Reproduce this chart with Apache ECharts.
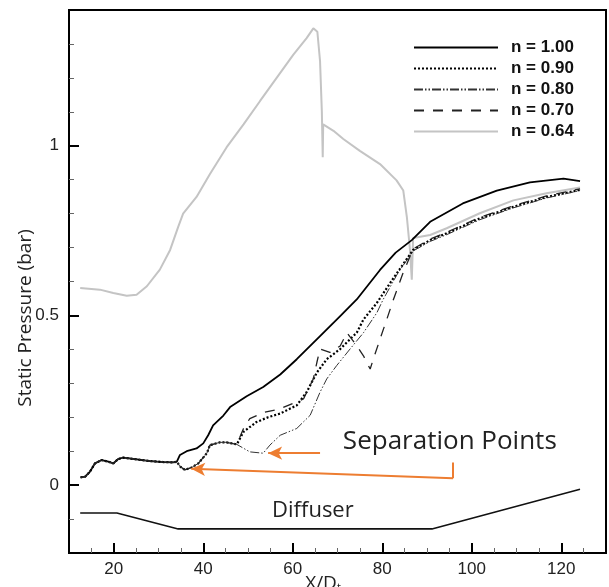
<!DOCTYPE html>
<html>
<head>
<meta charset="utf-8">
<script src="https://cdn.jsdelivr.net/npm/echarts@6/dist/echarts.min.js"></script>
<style>
  html, body { margin: 0; padding: 0; background: #fff; }
  #chart { width: 609px; height: 587px; }
</style>
</head>
<body>
<div id="chart"></div>
<script>
// values: [X/Dt, static pressure (bar)]
const commonStart = [[12.6, 0.023], [13.6, 0.025], [14.7, 0.040], [15.8, 0.064], [17.3, 0.074], [18.8, 0.069],
  [19.9, 0.064], [21.0, 0.077], [22.1, 0.081], [25.1, 0.076], [28.1, 0.071], [31.1, 0.068], [33.3, 0.067], [34.1, 0.069]];

const lowBranch = [[34.8, 0.055], [35.9, 0.045], [37.4, 0.052], [38.9, 0.064], [40.8, 0.094], [41.5, 0.118],
  [43.7, 0.126], [45.2, 0.126], [47.5, 0.120]];

const n100Tail = [[34.8, 0.089], [36.3, 0.100], [38.5, 0.108], [40.0, 0.123], [41.1, 0.147], [42.2, 0.176],
  [44.5, 0.205], [46.0, 0.230], [49.7, 0.262], [53.4, 0.289], [57.2, 0.326], [60.9, 0.371], [66.1, 0.439],
  [70.6, 0.498], [74.3, 0.547], [79.5, 0.634], [83.0, 0.685], [86.6, 0.722], [90.7, 0.776], [98.0, 0.830],
  [105.6, 0.868], [113.0, 0.892], [120.5, 0.903], [124.2, 0.896]];

const n090Tail = [[49.0, 0.157], [51.9, 0.186], [54.5, 0.200], [57.2, 0.211], [60.9, 0.235], [63.1, 0.274],
  [65.4, 0.332], [67.6, 0.371], [70.6, 0.401], [72.8, 0.430], [74.3, 0.449], [75.8, 0.488], [78.8, 0.537],
  [82.5, 0.610], [86.9, 0.693], [90.7, 0.722], [94.4, 0.742], [101.8, 0.786], [109.3, 0.820], [116.7, 0.849],
  [124.2, 0.870]];

const n080Tail = [[50.4, 0.098], [53.4, 0.094], [54.9, 0.118], [57.2, 0.147], [60.9, 0.167], [63.9, 0.206],
  [66.1, 0.274], [67.6, 0.313], [69.8, 0.352], [72.8, 0.401], [75.8, 0.449], [78.8, 0.508], [80.2, 0.547],
  [83.5, 0.625], [86.9, 0.690], [90.7, 0.718], [94.4, 0.738], [101.8, 0.782], [109.3, 0.817], [116.7, 0.846],
  [124.2, 0.868]];

const n070Tail = [[49.0, 0.167], [50.4, 0.196], [53.5, 0.214], [57.2, 0.225], [62.4, 0.254], [64.6, 0.313],
  [65.4, 0.362], [66.1, 0.401], [68.3, 0.391], [70.6, 0.410], [72.1, 0.449], [73.8, 0.420], [75.8, 0.381],
  [77.3, 0.342], [78.0, 0.371], [79.5, 0.430], [81.0, 0.488], [82.5, 0.547], [84.5, 0.620], [86.9, 0.696],
  [90.7, 0.725], [94.4, 0.745], [101.8, 0.789], [109.3, 0.823], [116.7, 0.852], [124.2, 0.873]];

const n064 = [[12.5, 0.581], [16.9, 0.576], [19.9, 0.566], [22.9, 0.558], [25.1, 0.561], [27.4, 0.586],
  [30.3, 0.635], [32.6, 0.693], [34.4, 0.761], [35.5, 0.800], [38.5, 0.849], [41.5, 0.917], [45.2, 0.995],
  [49.0, 1.063], [52.7, 1.132], [56.4, 1.200], [60.1, 1.268], [63.1, 1.317], [64.6, 1.346], [65.5, 1.336],
  [66.1, 1.249], [66.5, 1.102], [66.7, 0.966], [66.8, 1.063], [69.1, 1.044], [71.3, 1.020], [75.0, 0.985],
  [79.5, 0.946], [83.2, 0.898], [84.7, 0.868], [85.5, 0.790], [86.2, 0.693], [86.6, 0.605], [86.9, 0.728],
  [90.7, 0.737], [94.4, 0.757], [101.8, 0.801], [109.3, 0.839], [116.7, 0.860], [124.2, 0.877]];

const diffuser = [[12.5, -0.082], [20.7, -0.082], [34.4, -0.129], [91.1, -0.129], [124.2, -0.012]];

const seriesNames = ['n = 1.00', 'n = 0.90', 'n = 0.80', 'n = 0.70', 'n = 0.64'];

const xMajor = [20, 40, 60, 80, 100, 120];
const xMinor = [15, 25, 30, 35, 45, 50, 55, 65, 70, 75, 85, 90, 95, 105, 110, 115, 125];
const yMajor = [0, 0.5, 1];
const yMinor = [-0.1, 0.1, 0.2, 0.3, 0.4, 0.6, 0.7, 0.8, 0.9, 1.1, 1.2, 1.3];

// annotation anchors (data coords)
const arrowUpper = [[66.1, 0.095], [54.5, 0.094]];
const arrowLower = [[95.8, 0.067], [95.8, 0.020], [37.3, 0.048]];
const sepTextAt = [71.2, 0.117];
const diffuserTextAt = [64.5, -0.076];

const FONT = 'Liberation Sans';
const ORANGE = '#ed7d31';

const chart = echarts.init(document.getElementById('chart'));

function lineSeries(name, data, style) {
  return {
    name: name,
    type: 'line',
    data: data,
    symbol: 'none',
    showSymbol: false,
    animation: false,
    itemStyle: { color: style.color },
    lineStyle: style,
    emphasis: { disabled: true },
  };
}

const option = {
  animation: false,
  backgroundColor: '#fff',
  grid: { left: 69, right: 3, top: 10, bottom: 34, show: true, borderColor: '#000', borderWidth: 2 },
  legend: {
    data: seriesNames,
    orient: 'vertical',
    left: 413,
    top: 39,
    padding: 0,
    itemWidth: 84,
    itemHeight: 14,
    itemGap: 4,
    selectedMode: false,
    itemStyle: { opacity: 0 },
    textStyle: { fontFamily: FONT, fontWeight: 'bold', fontSize: 17, color: '#111', padding: [0, 0, 0, 8] },
  },
  xAxis: [{
    type: 'value', min: 10, max: 130,
    axisLine: { onZero: false, lineStyle: { color: '#000', width: 2 } },
    axisTick: { inside: true, length: 10, customValues: xMajor, lineStyle: { color: '#000', width: 2 } },
    axisLabel: { customValues: xMajor, fontFamily: FONT, fontSize: 17, color: '#222', margin: 8 },
    splitLine: { show: false },
  }, {
    type: 'value', min: 10, max: 130, position: 'bottom', offset: 0,
    axisLine: { show: false, onZero: false },
    axisTick: { inside: true, length: 5, customValues: xMinor, lineStyle: { color: '#666', width: 1 } },
    axisLabel: { show: false },
    splitLine: { show: false },
  }],
  yAxis: [{
    type: 'value', min: -0.2, max: 1.4,
    axisLine: { show: true, onZero: false, lineStyle: { color: '#000', width: 2 } },
    axisTick: { show: true, inside: true, length: 10, customValues: yMajor, lineStyle: { color: '#000', width: 2 } },
    axisLabel: { customValues: yMajor, fontFamily: FONT, fontSize: 17, color: '#222', margin: 10 },
    splitLine: { show: false },
  }, {
    type: 'value', min: -0.2, max: 1.4, position: 'left', offset: 0,
    axisLine: { show: false, onZero: false },
    axisTick: { show: true, inside: true, length: 5, customValues: yMinor, lineStyle: { color: '#666', width: 1 } },
    axisLabel: { show: false },
    splitLine: { show: false },
  }],
  series: [
    lineSeries(seriesNames[4], n064, { color: '#c4c4c4', width: 2 }),
    lineSeries(seriesNames[0], commonStart.concat(n100Tail), { color: '#000', width: 1.8 }),
    lineSeries(seriesNames[1], commonStart.concat(lowBranch, n090Tail), { color: '#000', width: 2.2, type: [2, 2] }),
    lineSeries(seriesNames[2], commonStart.concat(lowBranch, n080Tail), { color: '#333', width: 1, type: [9, 2, 1.5, 2, 1.5, 2] }),
    lineSeries(seriesNames[3], commonStart.concat(lowBranch, n070Tail), { color: '#222', width: 1.3, type: [10, 9] }),
    {
      type: 'line',
      data: diffuser,
      symbol: 'none',
      lineStyle: { color: '#111', width: 1.6 },
      emphasis: { disabled: true },
      markLine: {
        silent: true,
        animation: false,
        symbol: ['none', 'arrow'],
        symbolSize: [10, 14],
        label: { show: false },
        lineStyle: { color: ORANGE, width: 2, type: 'solid' },
        emphasis: { disabled: true },
        data: [
          [{ coord: arrowUpper[0] }, { coord: arrowUpper[1] }],
          [{ coord: arrowLower[0], symbol: 'none' }, { coord: arrowLower[1], symbol: 'none' }],
          [{ coord: arrowLower[1], symbol: 'none' }, { coord: arrowLower[2] }],
        ],
      },
    },
  ],
};

chart.setOption(option);

const sepPx = chart.convertToPixel({ xAxisIndex: 0, yAxisIndex: 0 }, sepTextAt);
const difPx = chart.convertToPixel({ xAxisIndex: 0, yAxisIndex: 0 }, diffuserTextAt);

chart.setOption({
  graphic: [
    {
      type: 'text', left: sepPx[0], top: sepPx[1] - 17, silent: true,
      style: { text: 'Separation Points', fontFamily: 'Open Sans', fontSize: 26, fill: '#222' },
    },
    {
      type: 'text', x: difPx[0], y: difPx[1], silent: true,
      style: { text: 'Diffuser', fontFamily: 'Open Sans', fontSize: 22, fill: '#222', align: 'center', verticalAlign: 'middle' },
    },
    {
      type: 'text', x: 26, y: 318, rotation: Math.PI / 2, silent: true,
      style: { text: 'Static Pressure (bar)', fontFamily: 'Open Sans', fontSize: 19, fill: '#222', align: 'center', verticalAlign: 'middle' },
    },
    {
      type: 'text', x: 323, y: 584, silent: true,
      style: {
        text: 'X/D{sub|t}', fontFamily: 'Open Sans', fontSize: 19, fill: '#222', align: 'center', verticalAlign: 'middle',
        rich: { sub: { fontFamily: 'Open Sans', fontSize: 11, fill: '#222', verticalAlign: 'bottom', padding: [8, 0, 0, 0] } },
      },
    },
  ],
});
</script>
</body>
</html>
